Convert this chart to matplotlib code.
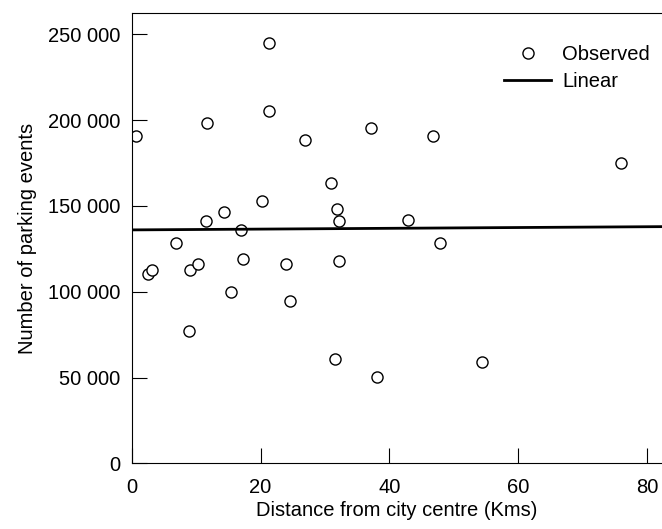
import matplotlib
matplotlib.use("Agg")
import matplotlib.pyplot as plt
from matplotlib.ticker import FuncFormatter

plt.rcParams['font.family'] = ['Liberation Sans', 'DejaVu Sans']

# distance from city centre (km) and parking events
distance = [0.7, 2.6, 3.2, 6.9, 8.9, 9.1, 10.3, 11.5, 11.7, 14.3, 15.4, 16.9,
            17.2, 20.2, 21.3, 21.3, 23.9, 24.5, 26.9, 31.0, 31.6, 31.8, 32.1,
            32.1, 37.2, 38.0, 42.9, 46.8, 47.8, 54.4, 75.9]
events = [190800, 110200, 112700, 128200, 76900, 112700, 116400, 140900,
          198200, 146500, 100100, 136000, 119300, 152900, 245000, 205000,
          116400, 94400, 188200, 163200, 60600, 147900, 141000, 118100,
          195200, 50300, 141600, 190800, 128600, 59300, 174700]

# linear fit line
fit_x = [0, 82.3]
intercept = 136000
slope = 23

fig = plt.figure(figsize=(6.62, 5.29), dpi=100)
ax = fig.add_axes([0.199, 0.124, 0.801, 0.852])

ax.plot(distance, events, linestyle='none', marker='o', markersize=8,
        markerfacecolor='white', markeredgecolor='black', markeredgewidth=1.0,
        label='Observed')
ax.plot(fit_x, [intercept + slope * v for v in fit_x], color='black',
        linewidth=2, label='Linear')

ax.set_xlim(0, 82.3)
ax.set_ylim(0, 262500)
ax.set_xticks([0, 20, 40, 60, 80])
ax.set_yticks([0, 50000, 100000, 150000, 200000, 250000])
ax.yaxis.set_major_formatter(FuncFormatter(lambda v, p: f"{int(v):,}".replace(',', ' ')))
ax.tick_params(direction='in', length=11, width=0.8, labelsize=14.5)
ax.tick_params(axis='x', pad=10.5)
ax.tick_params(axis='y', pad=8)
ax.spines['right'].set_visible(False)
for s in ['left', 'top', 'bottom']:
    ax.spines[s].set_linewidth(0.8)

ax.set_xlabel('Distance from city centre (Kms)', fontsize=14.5, labelpad=3)
ax.set_ylabel('Number of parking events', fontsize=14.5, labelpad=8)

ax.legend(loc='upper left', frameon=False, fontsize=14.5, handlelength=2.35,
          handletextpad=0.55, labelspacing=0.4, borderpad=0, borderaxespad=0,
          bbox_to_anchor=(504 / 662, 1 - 45 / 529), bbox_transform=fig.transFigure)

fig.savefig('out.png', dpi=100)
